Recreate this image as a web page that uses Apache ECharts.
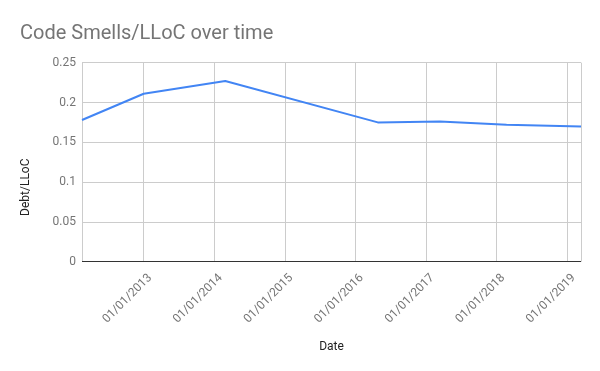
<!DOCTYPE html>
<html><head><meta charset="utf-8">
<script src="https://cdn.jsdelivr.net/npm/echarts@6/dist/echarts.min.js"></script>
<style>html,body{margin:0;padding:0;background:#fff}#c{width:600px;height:371px}</style>
</head><body><div id="c"></div>
<script>
const dates = ['2012-02-17','2013-01-01','2014-02-27','2016-04-26','2017-03-13','2018-02-21','2019-03-13'];
const values = [0.178,0.211,0.227,0.175,0.176,0.172,0.170];
const yTicks = [0,0.05,0.1,0.15,0.2,0.25];
const chart = echarts.init(document.getElementById('c'));
function pad(n){return (n<10?'0':'')+n;}
const DAY = 86400000;
chart.setOption({
  animation:false,
  textStyle:{fontFamily:'Roboto'},
  title:{text:'Code Smells/LLoC over time',left:15,top:19,textStyle:{fontFamily:'Roboto',fontSize:20,fontWeight:'normal',color:'#757575'}},
  grid:{left:82,right:19,top:62.7,bottom:109.3},
  xAxis:{type:'time',min:dates[0],max:dates[dates.length-1],
    minInterval:365*DAY,maxInterval:366*DAY,
    name:'Date',nameLocation:'middle',nameGap:79,
    nameTextStyle:{color:'#222',fontSize:12,fontFamily:'Roboto'},
    axisLine:{show:false},axisTick:{show:false},
    splitLine:{show:true,lineStyle:{color:'#cccccc',width:1}},
    minorSplitLine:{show:false},
    axisLabel:{rotate:45,margin:8,verticalAlign:'top',padding:[3,0,0,0],color:'#757575',fontSize:12,fontFamily:'Roboto',showMinLabel:false,showMaxLabel:false,
      formatter:function(v){const d=new Date(v);return pad(d.getDate())+'/'+pad(d.getMonth()+1)+'/'+d.getFullYear();}}
  },
  yAxis:{type:'value',min:yTicks[0],max:yTicks[yTicks.length-1],interval:0.05,
    name:'Debt/LLoC',nameLocation:'middle',nameGap:50,nameRotate:90,
    nameTextStyle:{color:'#222',fontSize:12,fontFamily:'Roboto',padding:[0,0,0,-50]},
    axisLine:{show:false},axisTick:{show:false},
    splitLine:{lineStyle:{color:'#cccccc',width:1}},
    axisLabel:{color:'#757575',fontSize:12,margin:6,fontFamily:'Roboto'}
  },
  series:[
    {type:'line',data:dates.map((d,i)=>[d,values[i]]),showSymbol:false,symbol:'none',
     lineStyle:{color:'#4285F4',width:2},itemStyle:{color:'#4285F4'},
     markLine:{silent:true,symbol:'none',label:{show:false},lineStyle:{color:'#333',width:1,type:'solid'},data:[{yAxis:0}]}}
  ]
});
</script></body></html>
